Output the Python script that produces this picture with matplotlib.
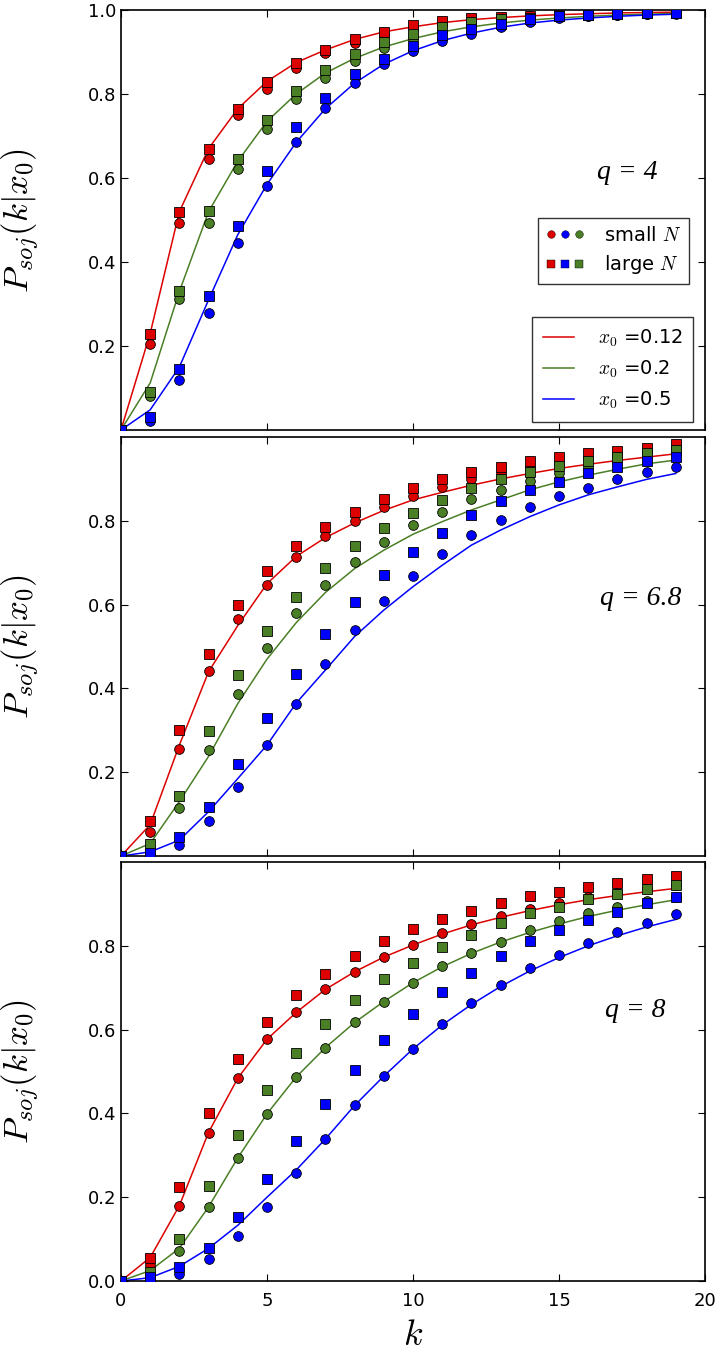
import matplotlib
matplotlib.use("Agg")
import matplotlib.pyplot as plt
from matplotlib.lines import Line2D
from matplotlib.legend_handler import HandlerTuple

plt.rcParams['mathtext.fontset'] = 'cm'
plt.rcParams['font.family'] = 'DejaVu Sans'

k = list(range(20))

# q = 4
q4_small_red = [0, 0.204, 0.493, 0.646, 0.751, 0.813, 0.861, 0.898, 0.922, 0.941,
                0.957, 0.968, 0.976, 0.981, 0.985, 0.988, 0.990, 0.992, 0.993, 0.994]
q4_large_red = [0, 0.229, 0.519, 0.669, 0.765, 0.829, 0.874, 0.905, 0.932, 0.948,
                0.964, 0.975, 0.980, 0.983, 0.985, 0.989, 0.991, 0.993, 0.994, 0.995]
q4_small_green = [0, 0.081, 0.313, 0.494, 0.622, 0.716, 0.788, 0.837, 0.878, 0.909,
                  0.930, 0.950, 0.963, 0.972, 0.978, 0.983, 0.986, 0.989, 0.991, 0.992]
q4_large_green = [0, 0.090, 0.331, 0.521, 0.646, 0.739, 0.806, 0.857, 0.895, 0.925,
                  0.942, 0.960, 0.972, 0.978, 0.982, 0.986, 0.989, 0.991, 0.993, 0.994]
q4_small_blue = [0, 0.022, 0.119, 0.279, 0.445, 0.582, 0.685, 0.766, 0.826, 0.871,
                 0.902, 0.927, 0.944, 0.960, 0.972, 0.981, 0.985, 0.988, 0.990, 0.991]
q4_large_blue = [0, 0.032, 0.145, 0.320, 0.486, 0.616, 0.721, 0.790, 0.848, 0.883,
                 0.915, 0.940, 0.954, 0.967, 0.978, 0.986, 0.988, 0.990, 0.992, 0.993]
q4_line_red = [0, 0.230, 0.520, 0.670, 0.765, 0.830, 0.875, 0.905, 0.930, 0.948,
               0.960, 0.970, 0.977, 0.982, 0.986, 0.989, 0.991, 0.993, 0.994, 0.995]
q4_line_green = [0, 0.112, 0.330, 0.520, 0.640, 0.735, 0.800, 0.850, 0.885, 0.912,
                 0.932, 0.948, 0.960, 0.969, 0.976, 0.981, 0.985, 0.988, 0.990, 0.992]
q4_line_blue = [0, 0.048, 0.150, 0.310, 0.465, 0.585, 0.685, 0.765, 0.826, 0.871,
                0.903, 0.927, 0.945, 0.959, 0.969, 0.976, 0.981, 0.985, 0.988, 0.990]

# q = 6.8
q68_small_red = [0, 0.058, 0.255, 0.442, 0.566, 0.648, 0.714, 0.763, 0.799, 0.833,
                 0.860, 0.880, 0.900, 0.913, 0.928, 0.936, 0.949, 0.955, 0.962, 0.973]
q68_large_red = [0, 0.084, 0.301, 0.483, 0.600, 0.680, 0.739, 0.786, 0.822, 0.853,
                 0.878, 0.900, 0.917, 0.929, 0.943, 0.952, 0.961, 0.967, 0.974, 0.983]
q68_small_green = [0, 0.020, 0.114, 0.254, 0.387, 0.496, 0.579, 0.647, 0.702, 0.750,
                   0.791, 0.822, 0.851, 0.874, 0.896, 0.913, 0.929, 0.943, 0.952, 0.961]
q68_large_green = [0, 0.029, 0.143, 0.298, 0.433, 0.537, 0.619, 0.687, 0.741, 0.784,
                   0.819, 0.850, 0.878, 0.900, 0.916, 0.931, 0.943, 0.953, 0.961, 0.969]
q68_small_blue = [0, 0.005, 0.027, 0.084, 0.165, 0.265, 0.363, 0.458, 0.539, 0.609,
                  0.669, 0.721, 0.765, 0.801, 0.832, 0.859, 0.879, 0.900, 0.916, 0.929]
q68_large_blue = [0, 0.008, 0.046, 0.118, 0.220, 0.330, 0.435, 0.531, 0.606, 0.671,
                  0.726, 0.772, 0.814, 0.848, 0.874, 0.893, 0.913, 0.929, 0.943, 0.952]
q68_line_red = [0, 0.075, 0.265, 0.440, 0.550, 0.650, 0.715, 0.760, 0.795, 0.825,
                0.850, 0.868, 0.885, 0.900, 0.913, 0.925, 0.935, 0.944, 0.952, 0.960]
q68_line_green = [0, 0.030, 0.130, 0.238, 0.364, 0.470, 0.557, 0.629, 0.686, 0.730,
                  0.768, 0.798, 0.826, 0.850, 0.874, 0.893, 0.909, 0.923, 0.936, 0.945]
q68_line_blue = [0, 0.010, 0.038, 0.106, 0.185, 0.265, 0.365, 0.444, 0.524, 0.587,
                 0.643, 0.694, 0.742, 0.778, 0.810, 0.838, 0.862, 0.881, 0.899, 0.913]

# q = 8
q8_small_red = [0, 0.038, 0.179, 0.354, 0.484, 0.577, 0.641, 0.696, 0.738, 0.773,
                0.802, 0.830, 0.852, 0.871, 0.887, 0.903, 0.916, 0.925, 0.937, 0.945]
q8_large_red = [0, 0.054, 0.224, 0.401, 0.530, 0.617, 0.683, 0.733, 0.776, 0.812,
                0.839, 0.865, 0.884, 0.903, 0.919, 0.929, 0.941, 0.951, 0.959, 0.967]
q8_small_green = [0, 0.015, 0.072, 0.177, 0.294, 0.399, 0.487, 0.557, 0.617, 0.667,
                  0.712, 0.752, 0.784, 0.810, 0.838, 0.858, 0.878, 0.893, 0.907, 0.917]
q8_large_green = [0, 0.022, 0.100, 0.227, 0.348, 0.457, 0.543, 0.613, 0.671, 0.721,
                  0.760, 0.796, 0.826, 0.854, 0.878, 0.893, 0.911, 0.923, 0.936, 0.945]
q8_small_blue = [0, 0.005, 0.016, 0.052, 0.107, 0.177, 0.258, 0.339, 0.419, 0.489,
                 0.554, 0.613, 0.664, 0.707, 0.746, 0.778, 0.806, 0.834, 0.855, 0.875]
q8_large_blue = [0, 0.010, 0.033, 0.078, 0.152, 0.243, 0.334, 0.422, 0.503, 0.575,
                 0.637, 0.690, 0.736, 0.775, 0.811, 0.837, 0.862, 0.881, 0.901, 0.917]
q8_line_red = [0, 0.056, 0.180, 0.355, 0.484, 0.577, 0.641, 0.696, 0.738, 0.773,
               0.802, 0.828, 0.850, 0.868, 0.884, 0.898, 0.910, 0.920, 0.929, 0.937]
q8_line_green = [0, 0.025, 0.078, 0.177, 0.294, 0.399, 0.487, 0.557, 0.617, 0.667,
                 0.712, 0.750, 0.782, 0.809, 0.832, 0.852, 0.870, 0.885, 0.898, 0.910]
q8_line_blue = [0, 0.008, 0.035, 0.078, 0.133, 0.200, 0.265, 0.339, 0.419, 0.489,
                0.554, 0.611, 0.660, 0.703, 0.740, 0.772, 0.800, 0.824, 0.845, 0.863]

x0_labels = ['0.12', '0.2', '0.5']
q_labels = ['q = 4', 'q = 6.8', 'q = 8']

RED = '#dd0000'
GREEN = '#4a7f25'
BLUE = '#0000ff'
colors = [RED, GREEN, BLUE]

panels = [
    (q4_small_red, q4_small_green, q4_small_blue,
     q4_large_red, q4_large_green, q4_large_blue,
     q4_line_red, q4_line_green, q4_line_blue),
    (q68_small_red, q68_small_green, q68_small_blue,
     q68_large_red, q68_large_green, q68_large_blue,
     q68_line_red, q68_line_green, q68_line_blue),
    (q8_small_red, q8_small_green, q8_small_blue,
     q8_large_red, q8_large_green, q8_large_blue,
     q8_line_red, q8_line_green, q8_line_blue),
]

fig = plt.figure(figsize=(7.18, 13.53), dpi=100)
boxes = [(0.1685, 0.6822, 0.8135, 0.3104),
         (0.1685, 0.3673, 0.8135, 0.3097),
         (0.1685, 0.0532, 0.8135, 0.3097)]
yticks = [[0.2, 0.4, 0.6, 0.8, 1.0],
          [0.2, 0.4, 0.6, 0.8],
          [0.0, 0.2, 0.4, 0.6, 0.8]]
text_pos = [(0.866, 0.614), (0.89, 0.615), (0.88, 0.645)]

for i, (box, data) in enumerate(zip(boxes, panels)):
    ax = fig.add_axes(box)
    small = data[0:3]
    large = data[3:6]
    lines = data[6:9]
    line_handles = []
    for c, ln, lab in zip(colors, lines, x0_labels):
        h, = ax.plot(k, ln, color=c, lw=1.1, zorder=2,
                     label=r'$x_0$ =' + lab)
        line_handles.append(h)
    for c, s in zip(colors, small):
        ax.plot(k, s, 'o', color=c, mec='black', mew=0.6, ms=7, zorder=3)
    for c, s in zip(colors, large):
        ax.plot(k, s, 's', color=c, mec='black', mew=0.6, ms=6.5, zorder=3)

    ax.set_xlim(0, 20)
    ax.set_ylim(0, 1.0)
    ax.set_xticks([0, 5, 10, 15, 20])
    ax.set_yticks(yticks[i])
    ax.tick_params(direction='in', top=True, right=True, length=5,
                   width=0.8, labelsize=13)
    ax.tick_params(axis='x', pad=8)
    for sp in ax.spines.values():
        sp.set_linewidth(1.2)
    if i < 2:
        ax.tick_params(labelbottom=False)
    ax.set_ylabel(r'$P_{soj}(k|x_0)$', fontsize=25)
    ax.yaxis.set_label_coords(-0.135, 0.5)
    ax.text(text_pos[i][0], text_pos[i][1], q_labels[i], transform=ax.transAxes,
            fontsize=20, family='Liberation Serif', style='italic',
            ha='center', va='center')

    if i == 0:
        mk = dict(ls='none', mec='black', mew=0.3, ms=5.5)
        circ = tuple(Line2D([], [], marker='o', color=c, **mk) for c in [RED, BLUE, GREEN])
        sq = tuple(Line2D([], [], marker='s', color=c, **mk) for c in [RED, BLUE, GREEN])
        leg1 = ax.legend([circ, sq], ['small $N$', 'large $N$'],
                         handler_map={tuple: HandlerTuple(ndivide=None, pad=0.15)},
                         loc='upper right', bbox_to_anchor=(0.973, 0.505),
                         fontsize=14, fancybox=False, edgecolor='black',
                         handlelength=2.0, handletextpad=1.0,
                         borderpad=0.4, labelspacing=0.45, borderaxespad=0)
        leg1.get_frame().set_linewidth(1.0)
        ax.add_artist(leg1)
        leg2 = ax.legend(handles=line_handles, loc='lower right',
                         bbox_to_anchor=(0.98, 0.02), fontsize=14,
                         fancybox=False, edgecolor='black', handlelength=1.6,
                         handletextpad=1.2, borderpad=0.55, labelspacing=0.5,
                         borderaxespad=0)
        leg2.get_frame().set_linewidth(1.0)
    if i == 2:
        ax.set_xlabel('$k$', fontsize=26, labelpad=6)

fig.savefig('out.png', dpi=100)
